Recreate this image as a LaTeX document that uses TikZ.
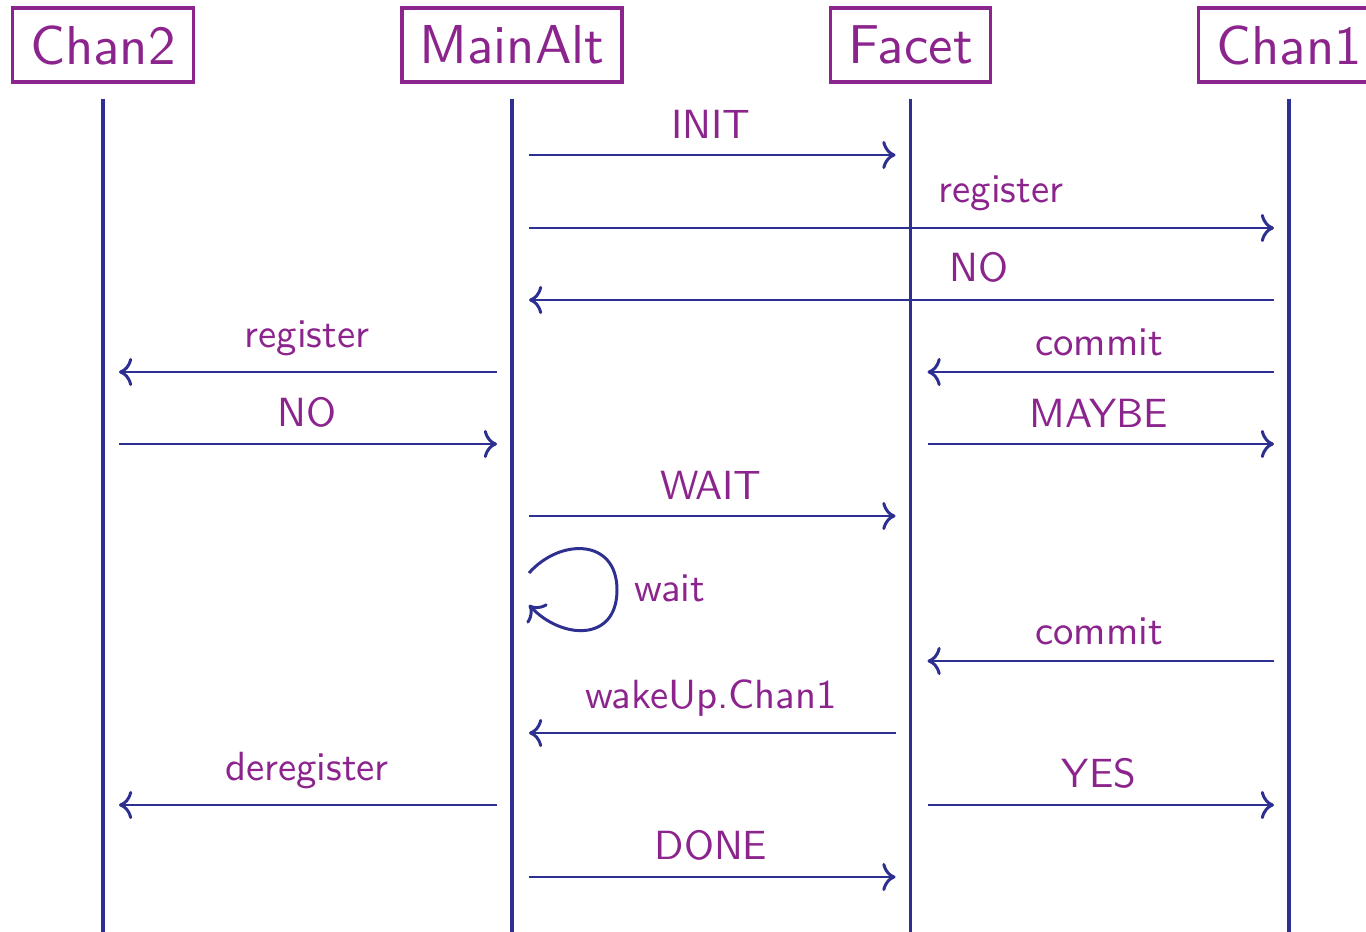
\documentclass[tikz,border=0pt]{standalone}
\usepackage{fontspec}
\setsansfont{lmsans10-regular.otf}
\usetikzlibrary{arrows.meta,calc}
\definecolor{labelpurple}{RGB}{140,36,142}
\definecolor{lineblue}{RGB}{45,48,145}
\begin{document}
\begin{tikzpicture}[x=0.02cm,y=-0.02cm,
  actor/.style={draw=labelpurple, line width=2pt, text=labelpurple,
    font=\sffamily\fontsize{31.2}{36}\selectfont,
    minimum height=42pt, inner xsep=10pt, inner ysep=0pt},
  life/.style={draw=lineblue, line width=2.1pt},
  msg/.style={draw=lineblue, line width=1.7pt,
    -{Computer Modern Rightarrow[length=7.5pt,width=16pt]}},
  lbl/.style={text=labelpurple, font=\sffamily\fontsize{23.2}{27}\selectfont,
    anchor=south, inner sep=0pt}]
\useasboundingbox (0,0) rectangle (1366,932);

% participants
\node[actor] (C2) at (103,45)   {Chan2};
\node[actor] (M)  at (512,45)   {MainAlt};
\node[actor] (F)  at (910.5,45) {Facet};
\node[actor] (C1) at (1289,45)  {Chan1};

% lifelines
\foreach \p in {C2,M,F,C1}
  \draw[life] ($(\p |- 0,99)$) -- ($(\p |- 0,940)$);

% messages
\draw[msg] ($(M |- 0,155)+(17,0)$) -- ($(F |- 0,155)+(-15,0)$);
\node[lbl] (l1) at (711,139) {INIT};

\draw[msg] ($(M |- 0,228)+(17,0)$) -- ($(C1 |- 0,228)+(-15,0)$);
\node[lbl] (l2) at (1001,211) {register};

\draw[msg] ($(C1 |- 0,300)+(-15,0)$) -- ($(M |- 0,300)+(17,0)$);
\node[lbl] (l3) at (979,283) {NO};

\draw[msg] ($(M |- 0,372)+(-15,0)$) -- ($(C2 |- 0,372)+(16,0)$);
\node[lbl] (l4) at (307,356) {register};
\draw[msg] ($(C1 |- 0,372)+(-15,0)$) -- ($(F |- 0,372)+(17,0)$);
\node[lbl] (l5) at (1099,356) {commit};

\draw[msg] ($(C2 |- 0,444)+(16,0)$) -- ($(M |- 0,444)+(-15,0)$);
\node[lbl] (l6) at (307,428) {NO};
\draw[msg] ($(F |- 0,444)+(17,0)$) -- ($(C1 |- 0,444)+(-15,0)$);
\node[lbl] (l7) at (1099,428) {MAYBE};

\draw[msg] ($(M |- 0,516)+(17,0)$) -- ($(F |- 0,516)+(-15,0)$);
\node[lbl] (l8) at (711,500) {WAIT};

% self call on MainAlt
\draw[msg] ($(M |- 0,573)+(17,0)$) .. controls (560,538) and (617,538) .. (617,590)
  .. controls (617,642) and (562,640) .. ($(M |- 0,605)+(17,0)$);
\node[lbl, anchor=base west] (l9) at (634,601) {wait};

\draw[msg] ($(C1 |- 0,661)+(-15,0)$) -- ($(F |- 0,661)+(17,0)$);
\node[lbl] (l10) at (1099,645) {commit};

\draw[msg] ($(F |- 0,733)+(-15,0)$) -- ($(M |- 0,733)+(17,0)$);
\node[lbl] (l11) at (711,717) {wakeUp.Chan1};

\draw[msg] ($(M |- 0,805)+(-15,0)$) -- ($(C2 |- 0,805)+(16,0)$);
\node[lbl] (l12) at (307,789) {deregister};
\draw[msg] ($(F |- 0,805)+(17,0)$) -- ($(C1 |- 0,805)+(-15,0)$);
\node[lbl] (l13) at (1099,789) {YES};

\draw[msg] ($(M |- 0,877)+(17,0)$) -- ($(F |- 0,877)+(-15,0)$);
\node[lbl] (l14) at (711,861) {DONE};
\end{tikzpicture}
\end{document}
